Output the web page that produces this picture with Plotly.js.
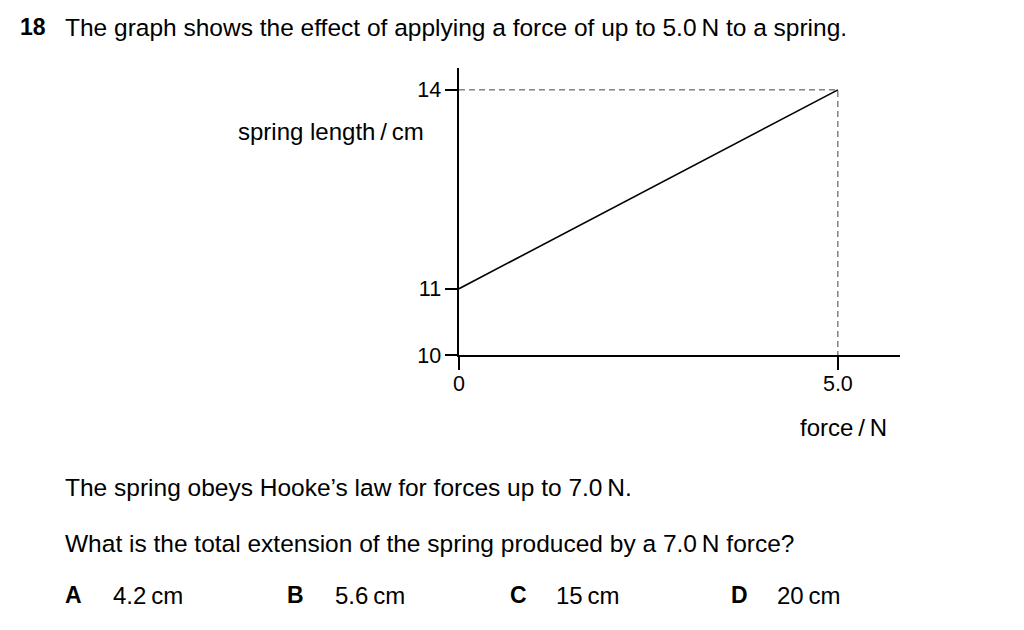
<!DOCTYPE html>
<html>
<head>
<meta charset="utf-8">
<script src="https://cdn.plot.ly/plotly-3.0.1.min.js"></script>
<style>html,body{margin:0;padding:0;background:#fff;}#chart{width:1024px;height:630px;}</style>
</head>
<body>
<div id="chart"></div>
<script>
// Data
const force = [0, 5.0];
const springLength = [11, 14];
const guideForce = [0, 5.0, 5.0];
const guideLength = [14, 14, 10];
const xTickVals = [0, 5.0];
const xTickText = ['0', '5.0'];
const yTickVals = [10, 11, 14];
const yTickText = ['10', '11', '14'];

const W = 1024, H = 630;
const L = 459, R = 900, T = 68, B = 355;
const px = x => (x - L) / (R - L);
const py = y => (B - y) / (B - T);
const FONT = 'Liberation Sans, Arial, sans-serif';

const traces = [
  {x: guideForce, y: guideLength, mode: 'lines', line: {color: '#444', width: 1, dash: '6px,4px'}, hoverinfo: 'skip', cliponaxis: false},
  {x: force, y: springLength, mode: 'lines', line: {color: '#000', width: 1.6}, hoverinfo: 'skip', cliponaxis: false}
];

function ann(text, x, y, size, xanchor, bold) {
  const dx = (xanchor || 'left') === 'left' ? -2 : 0;
  return {text: bold ? '<b>' + text + '</b>' : text, xref: 'paper', yref: 'paper', x: px(x + dx), y: py(y),
    xanchor: xanchor || 'left', yanchor: 'middle', showarrow: false, font: {family: FONT, size: size, color: '#000'}};
}

const layout = {
  width: W, height: H,
  margin: {l: L, r: W - R, t: T, b: H - B, pad: 0},
  paper_bgcolor: '#fff', plot_bgcolor: '#fff',
  showlegend: false,
  xaxis: {range: [0, 5.82], tickvals: xTickVals, ticktext: xTickText, ticks: 'outside', ticklen: 13, tickwidth: 1.6, tickcolor: '#000',
    ticklabelstandoff: -4,
    showline: true, linecolor: '#000', linewidth: 1.6, showgrid: false, zeroline: false, fixedrange: true,
    tickfont: {family: FONT, size: 21.5, color: '#000'}},
  yaxis: {range: [10, 14.33], tickvals: yTickVals, ticktext: yTickText, ticks: 'outside', ticklen: 12, tickwidth: 1.6, tickcolor: '#000',
    ticklabelstandoff: 0,
    showline: true, linecolor: '#000', linewidth: 1.6, showgrid: false, zeroline: false, fixedrange: true,
    tickfont: {family: FONT, size: 21.5, color: '#000'}},
  annotations: [
    ann('18', 20, 27, 23, 'left', true),
    ann('The graph shows the effect of applying a force of up to 5.0\u2009N to a spring.', 65, 27, 24.5),
    ann('spring length\u2009/\u2009cm', 426, 131, 24, 'right'),
    ann('force\u2009/\u2009N', 843, 427, 24, 'center'),
    ann('The spring obeys Hooke\u2019s law for forces up to 7.0\u2009N.', 65, 487, 24.5),
    ann('What is the total extension of the spring produced by a 7.0\u2009N force?', 65, 543, 24.5),
    ann('A', 65, 595, 23, 'left', true),
    ann('4.2\u2009cm', 113, 595, 24),
    ann('B', 287, 595, 23, 'left', true),
    ann('5.6\u2009cm', 335, 595, 24),
    ann('C', 510, 595, 23, 'left', true),
    ann('15\u2009cm', 556, 595, 24),
    ann('D', 731, 595, 23, 'left', true),
    ann('20\u2009cm', 777, 595, 24)
  ]
};

Plotly.newPlot('chart', traces, layout, {displayModeBar: false, staticPlot: true});
</script>
</body>
</html>
